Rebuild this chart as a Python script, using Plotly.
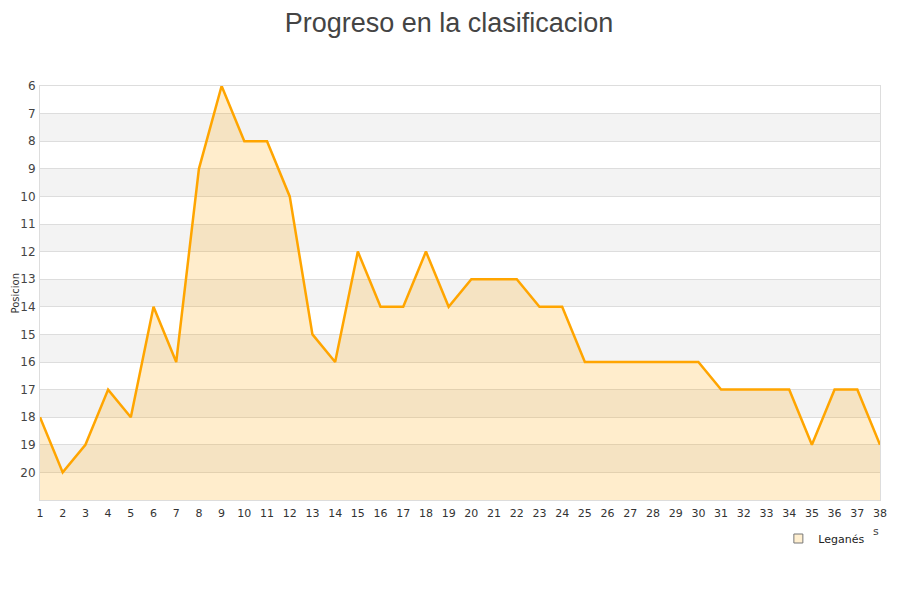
import plotly.graph_objects as go

jornadas = list(range(1, 39))
posicion = [18, 20, 19, 17, 18, 14, 16, 9, 6, 8, 8, 10, 15, 16, 12, 14, 14, 12, 14, 13,
            13, 13, 14, 14, 16, 16, 16, 16, 16, 16, 17, 17, 17, 17, 19, 17, 17, 19]
equipo = "Leganés"
y_ticks = list(range(6, 21))

ML, MT, PW, PH = 32, 78, 840, 414

fig = go.Figure()

# baseline for the fill
fig.add_trace(go.Scatter(x=jornadas, y=[21] * len(jornadas), mode="lines",
                         line=dict(width=0), showlegend=False, hoverinfo="skip"))
fig.add_trace(go.Scatter(x=jornadas, y=posicion, mode="lines", fill="tonexty",
                         fillcolor="rgba(255,165,0,0.2)",
                         line=dict(color="#FFA500", width=2.5), showlegend=False,
                         name=equipo))
# legend entry
fig.add_trace(go.Scatter(x=[None], y=[None], mode="markers", name=equipo,
                         marker=dict(symbol="square", size=9, color="#FFEFD0",
                                     line=dict(color="#777", width=1))))

shapes = []
for b in range(7, 21, 2):
    shapes.append(dict(type="rect", xref="paper", yref="y", x0=0, x1=1, y0=b, y1=b + 1,
                       fillcolor="#f3f3f3", line=dict(width=0), layer="below"))

fig.update_layout(
    width=900, height=600,
    margin=dict(l=ML, r=900 - ML - PW, t=MT, b=600 - MT - PH, autoexpand=False),
    paper_bgcolor="white", plot_bgcolor="white",
    title=dict(text="Progreso en la clasificacion", x=0.49, xanchor="center",
               xref="container", yref="container", y=1 - 5 / 600, yanchor="top",
               font=dict(family="Liberation Sans, Arial", size=27, color="#444")),
    font=dict(family="DejaVu Sans", size=11, color="#444"),
    shapes=shapes,
    showlegend=True,
    legend=dict(x=0.879, y=-0.058, xanchor="left", yanchor="top",
                font=dict(size=11, color="#222"), bgcolor="rgba(0,0,0,0)"),
    xaxis=dict(range=[1, 38], tickmode="array", tickvals=jornadas, automargin=False,
               showgrid=False, zeroline=False, showline=True, linecolor="#ddd",
               mirror=True, ticks="outside", ticklen=3, tickcolor="rgba(0,0,0,0)",
               tickfont=dict(size=11, color="#333")),
    yaxis=dict(range=[21, 6], tickmode="array", tickvals=y_ticks, automargin=False,
               showgrid=True, gridcolor="#ddd", gridwidth=1, zeroline=False,
               showline=True, linecolor="#ddd", mirror=True,
               ticks="", ticklabelstandoff=1,
               tickfont=dict(size=12, color="#444")),
    annotations=[
        dict(text="Posicion", x=(0 - ML) / PW, y=(MT + PH - 285) / PH, xref="paper",
             yref="paper", showarrow=False, textangle=-90, xanchor="left",
             yanchor="middle", borderpad=0, font=dict(size=10, color="#333")),
        dict(text="s", x=0.995, y=-0.075, xref="paper", yref="paper", showarrow=False,
             xanchor="center", yanchor="middle", font=dict(size=11, color="#444")),
    ],
)

fig.write_html("out.html")
